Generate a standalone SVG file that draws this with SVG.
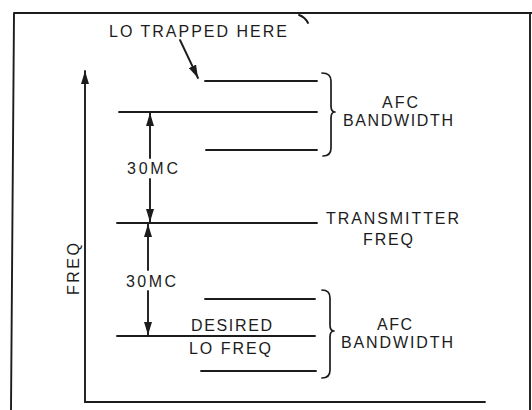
<svg xmlns="http://www.w3.org/2000/svg" width="532" height="410" viewBox="0 0 532 410">
<style>
.ln{stroke:#1c1c1c;stroke-width:1.9;fill:none;stroke-linecap:round}
.br{stroke:#1c1c1c;stroke-width:1.7;fill:none;stroke-linecap:round;stroke-linejoin:round}
.ah{fill:#1c1c1c}
text{font-family:"Liberation Sans",Arial,sans-serif;font-size:16px;fill:#1c1c1c}
</style>
<defs>
<marker id="arr" viewBox="0 0 13 8" refX="13" refY="4" markerWidth="13" markerHeight="8" markerUnits="userSpaceOnUse" orient="auto">
<path d="M0,0 L13,4 L0,8 z" class="ah"/>
</marker>
</defs>
<rect width="532" height="410" fill="#fff"/>
<g id="frame">
<path class="ln" d="M14,13 L532,13 M14,13 L11,410 M530,13 L530,410"/>
<path class="ln" d="M299,15 Q305,17 308,23" stroke-width="1.5"/>
</g>
<g id="axis">
<path class="ln" d="M85,402 L85,71" marker-end="url(#arr)"/>
<path class="ln" d="M85,402 L485,402"/>
<text transform="translate(78.5,269) rotate(-90)" text-anchor="middle" textLength="52" lengthAdjust="spacing">FREQ</text>
</g>
<g id="connectors">
<path class="ln" d="M180,40 L198,78" marker-end="url(#arr)"/>
<path class="ln" d="M150,158 L150,113" marker-end="url(#arr)"/>
<path class="ln" d="M150,179 L150,222" marker-end="url(#arr)"/>
<path class="ln" d="M148,270 L148,224" marker-end="url(#arr)"/>
<path class="ln" d="M148,291 L148,335" marker-end="url(#arr)"/>
</g>
<g id="lo-trapped">
<text x="109" y="37" textLength="178" lengthAdjust="spacing">LO TRAPPED HERE</text>
<path class="ln" d="M205,81 L317,81"/>
</g>
<g id="afc-upper">
<path class="ln" d="M119,112 L317,112"/>
<path class="ln" d="M206,150 L317,150"/>
<path class="br" d="M322,73 Q331,73 331,81 L331,106 Q331,112 335,112 Q331,112 331,118 L331,148 Q331,156 323,156"/>
<text x="382" y="108" textLength="36" lengthAdjust="spacing">AFC</text>
<text x="343" y="126" textLength="110" lengthAdjust="spacing">BANDWIDTH</text>
</g>
<g id="label-30mc-1">
<text x="127" y="174" textLength="51" lengthAdjust="spacing">30MC</text>
</g>
<g id="transmitter">
<path class="ln" d="M117,223 L317,223"/>
<text x="326" y="224" textLength="133" lengthAdjust="spacing">TRANSMITTER</text>
<text x="363" y="245" textLength="50" lengthAdjust="spacing">FREQ</text>
</g>
<g id="label-30mc-2">
<text x="126" y="287" textLength="50" lengthAdjust="spacing">30MC</text>
</g>
<g id="afc-lower">
<path class="ln" d="M205,299 L315,299"/>
<path class="ln" d="M117,336 L315,336"/>
<path class="ln" d="M201,371 L316,371"/>
<text x="191" y="331" textLength="81" lengthAdjust="spacing">DESIRED</text>
<text x="189" y="354" textLength="82" lengthAdjust="spacing">LO FREQ</text>
<path class="br" d="M322,290 Q330,290 330,298 L330,325 Q330,331 334,331 Q330,331 330,337 L330,370 Q330,378 322,378"/>
<text x="377" y="330" textLength="35" lengthAdjust="spacing">AFC</text>
<text x="341" y="348" textLength="112" lengthAdjust="spacing">BANDWIDTH</text>
</g>
</svg>
